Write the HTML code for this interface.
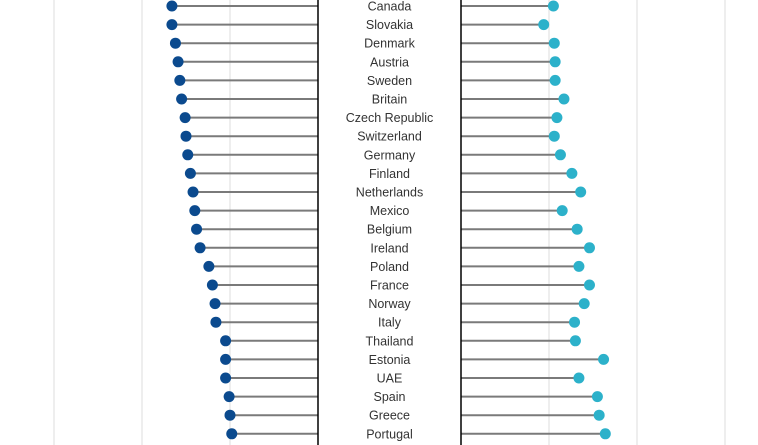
<!DOCTYPE html>
<html><head><meta charset="utf-8"><style>
html,body{margin:0;padding:0;background:#fff;}
svg{display:block;font-family:"Liberation Sans",sans-serif;}
</style></head><body>
<svg id="chart" width="758" height="445"></svg>
<script>
const countries=["Canada","Slovakia","Denmark","Austria","Sweden","Britain","Czech Republic","Switzerland","Germany","Finland","Netherlands","Mexico","Belgium","Ireland","Poland","France","Norway","Italy","Thailand","Estonia","UAE","Spain","Greece","Portugal"];
const leftValues=[16.6,16.6,16.2,15.9,15.7,15.5,15.1,15.0,14.8,14.5,14.2,14.0,13.8,13.4,12.4,12.0,11.7,11.6,10.5,10.5,10.5,10.1,10.0,9.8];
const rightValues=[10.5,9.4,10.6,10.7,10.7,11.7,10.9,10.6,11.3,12.6,13.6,11.5,13.2,14.6,13.4,14.6,14.0,12.9,13.0,16.2,13.4,15.5,15.7,16.4];
const leftGrid=[10,20,30];
const rightGrid=[10,20,30];
const NS="http://www.w3.org/2000/svg";
const svg=document.getElementById('chart');
const LAX=318,RAX=461,LPX=8.8,RPX=8.8,Y0=6,DY=18.6;
const xL=v=>LAX-v*LPX, xR=v=>RAX+v*RPX, yRow=i=>Y0+i*DY;
function mk(t,a){const e=document.createElementNS(NS,t);for(const k in a)e.setAttribute(k,a[k]);svg.appendChild(e);return e;}
leftGrid.forEach(g=>{const l=mk('line',{x1:xL(g),x2:xL(g),y1:0,y2:445,stroke:'#dcdcdc','stroke-width':1});

});
rightGrid.forEach(g=>{const l=mk('line',{x1:xR(g),x2:xR(g),y1:0,y2:445,stroke:'#dcdcdc','stroke-width':1});

});
countries.forEach((c,i)=>{
 const y=yRow(i);
 const l1=mk('line',{x1:xL(leftValues[i]),x2:LAX,y1:y,y2:y,stroke:'#7a7a7a','stroke-width':2});
 
 
 const l2=mk('line',{x1:RAX,x2:xR(rightValues[i]),y1:y,y2:y,stroke:'#7a7a7a','stroke-width':2});
 
 
 const d1=mk('circle',{cx:xL(leftValues[i]),cy:y,r:5.5,fill:'#0b4a8e'});
 
 
 const d2=mk('circle',{cx:xR(rightValues[i]),cy:y,r:5.5,fill:'#2cb1ca'});
 
 
 const t=mk('text',{x:389.5,y:y+4.5,'text-anchor':'middle','font-size':12.5,fill:'#333'});
 t.textContent=c;
 
 
});
const a1=mk('line',{x1:LAX,x2:LAX,y1:0,y2:445,stroke:'#000','stroke-width':1.5});


const a2=mk('line',{x1:RAX,x2:RAX,y1:0,y2:445,stroke:'#000','stroke-width':1.5});


</script>
</body></html>
